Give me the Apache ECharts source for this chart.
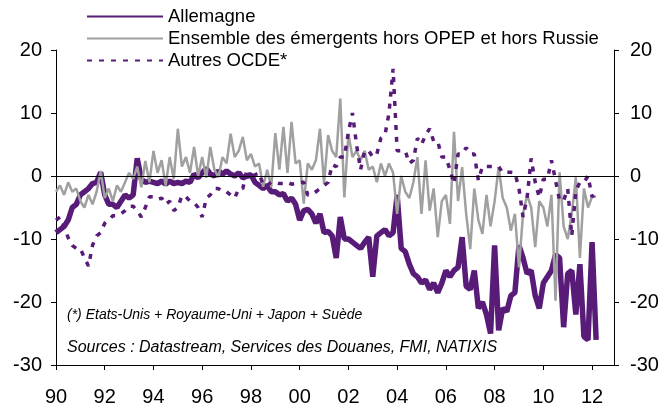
<!DOCTYPE html>
<html>
<head>
<meta charset="utf-8">
<script src="https://cdn.jsdelivr.net/npm/echarts@6/dist/echarts.min.js"></script>
<style>
  html, body { margin: 0; padding: 0; background: #fff; }
  #chart { width: 664px; height: 408px; }
</style>
</head>
<body>
<div id="chart"></div>
<script>
// Soldes commerciaux, % - données bimestrielles (début janvier 1990)
var startYear = 1990;
var stepMonths = 2;

var names = ['Allemagne', 'Ensemble des émergents hors OPEP et hors Russie', 'Autres OCDE*'];

var allemagne = [
    -9, -8.5, -8, -7, -5, -4.5,
    -3, -2.5, -2, -1.2, -1, 0.6,
    -3, -4.5, -4.5, -5, -4, -3,
    -3.5, -3, 2.8, -0.5, -1, -0.8,
    -1, -1.2, -0.8, -1.3, -0.8, -1.2,
    -1, -1.2, -0.8, -1, 0.3, -0.3,
    0.5, 1.2, 0.3, 0, 0.8, 0.3,
    0.8, 0.3, 0, 0.5, -0.3, 0,
    0.2, -1, -1.5, -2, -1.5, -2.5,
    -2.5, -3, -2.8, -4, -3.5, -4.5,
    -7, -5.5, -5.3, -6, -7.5, -6,
    -9, -8.8, -9.5, -13, -6.5, -10,
    -10, -10.5, -11, -11.5, -10.5, -9.7,
    -16, -9.5, -9, -8.5, -9.5, -9,
    -3, -11.5, -12, -14, -15.5, -16,
    -17, -16.5, -18, -17, -18.5, -17,
    -15, -16, -15, -14.5, -9.7, -17.5,
    -18, -15, -21, -20, -22, -25,
    -11, -24.5, -21, -21.5, -19, -18.5,
    -11, -13, -15.5, -15, -19, -21,
    -17, -16, -15, -12.5, -13, -24,
    -15.5, -15, -22, -14, -25.5, -26,
    -10.5, -26
];

var emergents = [
    -2.5, -1.5, -3, -1, -2.5, -2,
    -4, -5, -3, -4.5, -2.5, 0.8,
    -3.5, -2, -4, -1.5, -2.5, -1,
    0.5, -0.5, 1.5, -1.8, 2.4, -1,
    4, 0.5, 2.5, -1.5, 3, -0.5,
    7.5, 1.5, 3, 0.5, 4.6, 0,
    3, -0.3, 4.6, 1, -0.2, 3,
    2, 6.7, 3, 4, 6.2, 2.5,
    3.5, 1.5, 2, -1.7, 1, -1.8,
    6.8, 1, 7.8, 0.5, 8.6, 2,
    2.5, -4.4, 2, 1, 2.5, 7.5,
    -1.2, 6.5, 4, 3, 12.3, -3.4,
    6.7, 3, 4, 2.5, 4, 1,
    1.5, -1, 2, 0, 2, 0.5,
    -6, 0, -2.5, -3.5, -1, 3,
    -6, 2.5, -5.5, -2, -9.7, -4,
    -3, -7.6, 7, -4, 1.4, -6,
    -11.6, -2, -7, -9.2, -3, -8,
    -4, 1.4, -3.5, -5, -8.7, -6,
    -14.5, -6, -3, -5, -11.3, -4,
    -5, -8, -3, -19.8, 0.6, -8,
    -10, -6, -0.2, -13, -2, -5,
    -3.3, -3.3
];

var autresOcde = [
    -7, -6.5, -8, -9.8, -11, -11.5,
    -11.5, -13, -14.3, -11, -9.5, -9,
    -7.5, -7, -6.3, -6.3, -6, -5.5,
    -4.8, -4.8, -5.5, -6.5, -5, -3.3,
    -3.3, -3.7, -3.5, -4.5, -4, -5.5,
    -5, -3.1, -3.3, -4, -4.2, -5,
    -6.5, -3.5, -3, -2, -2, -2.5,
    -2.5, -3, -3.5, -2, -2, 1,
    -0.7, 0.2, 0.5, -1.5, -1.5, -1,
    -1, -1.2, -1.2, -1, -1.3, -1.2,
    -1, -1, -3, -3, -2.5, -2,
    -1.5, -1, 1.8, 1.5, 3, 3,
    7, 10, 5, 1, 4, 4,
    3, 3.5, 6, 6.5, 10, 17,
    4, 4, 4, 2, 2.5, 6,
    5, 6.5, 7.5, 5.5, 5.5, 3,
    3, 1, -1.2, 3.5, 3.5, 4.5,
    3.5, 3.5, -0.7, 1.5, 1.5, 1.5,
    1.5, 1.5, 0.5, 0.6, 0.6, 0.5,
    -2, -6.5, -3.5, 2.8, -1, -3.4,
    -0.5, -0.5, 2.5, -0.7, -3.9, -3.9,
    -2, -9.5, -2.3, -1, -1, 0,
    -3.3, -2.5
];

var yTicks = { min: -30, max: 20, interval: 10 };
var xTicks = { min: 1990, max: 2012.9, interval: 2 };

var note = '(*) Etats-Unis + Royaume-Uni + Japon + Suède';
var sources = 'Sources : Datastream, Services des Douanes, FMI, NATIXIS';

function withDates(values) {
    return values.map(function (v, i) {
        return [startYear + i * stepMonths / 12, v];
    });
}

var chart = echarts.init(document.getElementById('chart'));
var purple = '#581c78';
var grey = '#a0a0a0';
var font = "'Liberation Sans', Arial, sans-serif";

function yAxis(pos, margin) {
    return {
        type: 'value',
        position: pos,
        min: yTicks.min,
        max: yTicks.max,
        interval: yTicks.interval,
        axisLine: { show: true, lineStyle: { color: '#000', width: 1 } },
        axisTick: { show: true, length: 5, lineStyle: { color: '#000' } },
        splitLine: { show: false },
        axisLabel: { color: '#000', fontSize: 20, fontFamily: font, margin: margin }
    };
}

var option = {
    animation: false,
    backgroundColor: '#fff',
    grid: { left: 56, right: 50, top: 50, bottom: 43 },
    legend: {
        orient: 'vertical',
        left: 86,
        top: 7,
        padding: 0,
        itemWidth: 76,
        itemHeight: 14,
        itemGap: 3,
        data: names,
        itemStyle: { opacity: 0 },
        textStyle: { color: '#000', fontSize: 18.5, fontFamily: font }
    },
    xAxis: {
        type: 'value',
        min: xTicks.min,
        max: xTicks.max,
        interval: xTicks.interval,
        axisLine: { show: true, onZero: false, lineStyle: { color: '#000', width: 1 } },
        axisTick: { show: true, length: 5, lineStyle: { color: '#000' } },
        splitLine: { show: false },
        axisLabel: {
            color: '#000', fontSize: 20, fontFamily: font, margin: 22,
            showMaxLabel: false,
            formatter: function (v) {
                if (Math.abs(v - Math.round(v)) > 0.01 || Math.round(v) % 2) return '';
                var y = Math.round(v) % 100;
                return (y < 10 ? '0' : '') + y;
            }
        }
    },
    yAxis: [yAxis('left', 14), yAxis('right', 16)],
    graphic: [
        {
            type: 'text', left: 67, top: 308,
            style: { text: note, fill: '#000', fontSize: 14, fontStyle: 'italic', fontFamily: font }
        },
        {
            type: 'text', left: 67, top: 340,
            style: { text: sources, fill: '#000', fontSize: 16, fontStyle: 'italic', fontFamily: font }
        }
    ],
    series: [
        {
            name: names[0],
            type: 'line',
            symbol: 'none',
            data: withDates(allemagne),
            lineStyle: { color: purple, width: 5.5 },
            itemStyle: { color: purple },
            markLine: {
                silent: true,
                symbol: 'none',
                label: { show: false },
                lineStyle: { color: '#000', width: 1, type: 'solid' },
                data: [{ yAxis: 0 }]
            }
        },
        {
            name: names[1],
            type: 'line',
            symbol: 'none',
            data: withDates(emergents),
            lineStyle: { color: grey, width: 2.5 },
            itemStyle: { color: grey }
        },
        {
            name: names[2],
            type: 'line',
            symbol: 'none',
            data: withDates(autresOcde),
            lineStyle: { color: purple, width: 3.5, type: [5, 7] },
            itemStyle: { color: purple }
        }
    ]
};

chart.setOption(option);
window.addEventListener('resize', function () {
    chart.resize();
});
</script>
</body>
</html>
